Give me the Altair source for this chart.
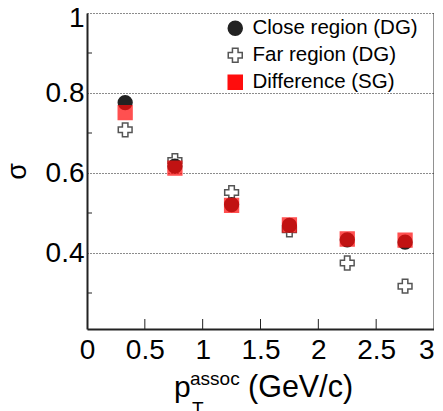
import altair as alt
import pandas as pd

# ---- data ----
pt = [0.33, 0.76, 1.25, 1.75, 2.25, 2.75]
close_dg = [0.776, 0.617, 0.521, 0.469, 0.433, 0.427]
far_dg = [0.708, 0.631, 0.551, 0.458, 0.375, 0.317]
diff_sg = [0.751, 0.612, 0.519, 0.470, 0.435, 0.432]

series_names = ["Close region (DG)", "Far region (DG)", "Difference (SG)"]
draw_order = {"Far region (DG)": 0, "Close region (DG)": 1, "Difference (SG)": 2}
alpha = {"Far region (DG)": 1.0, "Close region (DG)": 1.0, "Difference (SG)": 0.72}

y_major = [0.4, 0.6, 0.8, 1.0]
y_minor = [0.3, 0.5, 0.7, 0.9]
x_ticks = [0.5, 1.0, 1.5, 2.0, 2.5]
x_labels = [0, 0.5, 1, 1.5, 2, 2.5, 3]

rows = []
for name, vals in zip(series_names, [close_dg, far_dg, diff_sg]):
    for x, v in zip(pt, vals):
        rows.append({"pt": x, "sigma": v, "series": name,
                     "ord": draw_order[name], "alpha": alpha[name]})
df = pd.DataFrame(rows)

W, H = 347, 316
FONT = "Liberation Sans"

xscale = alt.Scale(domain=[0, 3], nice=False, zero=False)
yscale = alt.Scale(domain=[0.21, 1.0], nice=False, zero=False)

leg = alt.Legend(title=None)

points = alt.Chart(df).mark_point(size=190, strokeWidth=1.5, filled=False, opacity=1).encode(
    x=alt.X("pt:Q", scale=xscale,
            axis=alt.Axis(values=x_labels, title=None, ticks=False, grid=False,
                          labelFontSize=28, labelFont=FONT, labelColor="#000",
                          labelPadding=7, labelFlush=False,
                          labelAlign={"condition": {"test": "datum.value >= 2.99", "value": "right"},
                                      "value": "center"},
                          domainColor="#222", domainWidth=2,
                          labelExpr="datum.value")),
    y=alt.Y("sigma:Q", scale=yscale,
            axis=alt.Axis(values=y_major, title="σ", ticks=False, grid=True,
                          gridColor="#000", gridDash=[1, 2], gridWidth=1, gridOpacity=0.9,
                          labelFontSize=28, labelFont=FONT, labelColor="#000",
                          labelPadding=3, labelFlush=False,
                          labelOffset={"condition": {"test": "datum.value >= 0.99", "value": 5},
                                       "value": 0},
                          domainColor="#222", domainWidth=2,
                          titleFont=FONT, titleFontSize=27, titleFontWeight="normal",
                          titleColor="#000", titleX=-62, titleY=158, titleAngle=-90,
                          titleAlign="center", titleBaseline="alphabetic",
                          labelExpr="datum.value")),
    shape=alt.Shape("series:N", scale=alt.Scale(domain=series_names,
                    range=["circle", "cross", "square"]), legend=leg),
    fill=alt.Fill("series:N", scale=alt.Scale(domain=series_names,
                  range=["#222222", "#ffffff", "#ff0d0d"]), legend=leg),
    stroke=alt.Stroke("series:N", scale=alt.Scale(domain=series_names,
                      range=["#222222", "#555555", "#ff0d0d"]), legend=leg),
    opacity=alt.Opacity("alpha:Q", scale=None, legend=None),
    order=alt.Order("ord:Q"),
)

ytick_df = pd.DataFrame({"v": y_minor})
yticks = alt.Chart(ytick_df).mark_rule(color="#222", strokeWidth=1).encode(
    y=alt.Y("v:Q", scale=yscale),
    x=alt.value(0), x2=alt.value(5),
)

xtick_df = pd.DataFrame({"v": x_ticks})
xticks = alt.Chart(xtick_df).mark_rule(color="#222", strokeWidth=1).encode(
    x=alt.X("v:Q", scale=xscale),
    y=alt.value(H), y2=alt.value(H - 10),
)

right_border = alt.Chart(pd.DataFrame({"v": [3.0]})).mark_rule(color="#222", strokeWidth=1).encode(
    x=alt.X("v:Q", scale=xscale),
    y=alt.value(0), y2=alt.value(H),
)

# x-axis title built from pieces (superscript / subscript)
t_p = alt.Chart(pd.DataFrame({"t": ["p"]})).mark_text(
    font=FONT, fontSize=30, align="left", baseline="alphabetic", color="#000"
).encode(text="t:N", x=alt.value(87), y=alt.value(384))
t_sup = alt.Chart(pd.DataFrame({"t": ["assoc"]})).mark_text(
    font=FONT, fontSize=19, align="left", baseline="alphabetic", color="#000"
).encode(text="t:N", x=alt.value(103), y=alt.value(372))
t_sub = alt.Chart(pd.DataFrame({"t": ["T"]})).mark_text(
    font=FONT, fontSize=19, align="left", baseline="alphabetic", color="#000"
).encode(text="t:N", x=alt.value(105), y=alt.value(402))
t_unit = alt.Chart(pd.DataFrame({"t": ["(GeV/c)"]})).mark_text(
    font=FONT, fontSize=30.5, align="left", baseline="alphabetic", color="#000"
).encode(text="t:N", x=alt.value(161), y=alt.value(384))

chart = alt.layer(yticks, xticks, right_border, points, t_p, t_sup, t_sub, t_unit).properties(
    width=W, height=H,
    autosize=alt.AutoSizeParams(type="none"),
    padding={"left": 79, "top": 5, "right": 0, "bottom": 82},
).configure_view(stroke=None).configure_legend(
    orient="none", legendX=138, legendY=5, padding=0,
    labelFont=FONT, labelFontSize=20.5, labelColor="#000",
    labelOffset=7, rowPadding=6, symbolSize=196, symbolStrokeWidth=1.5,
    symbolOffset=0, labelLimit=300, symbolOpacity=1,
)

chart.save("out.html", embed_options={"renderer": "svg", "actions": False})
